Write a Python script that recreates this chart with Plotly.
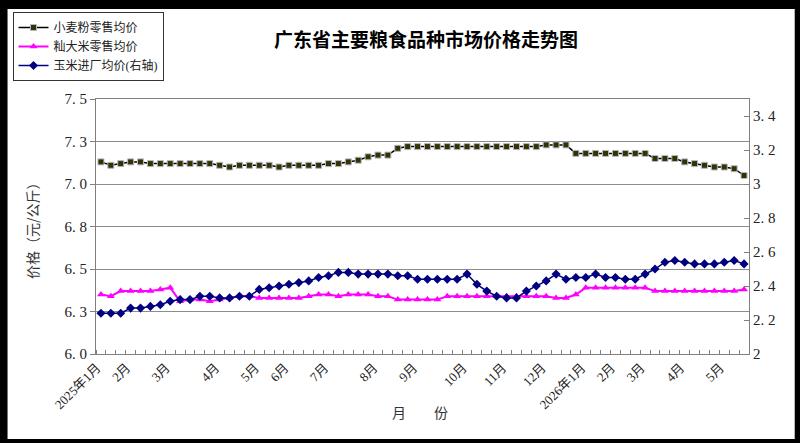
import plotly.graph_objects as go

# ---------------- data ----------------
n_weeks = 66
month_pos = [0, 3, 7, 12, 16, 19, 23, 28, 32, 37, 41, 45, 49, 52, 55, 59, 63]
month_names = ["2025年1月", "2月", "3月", "4月", "5月", "6月", "7月", "8月", "9月",
               "10月", "11月", "12月", "2026年1月", "2月", "3月", "4月", "5月"]
x_labels = [""] * n_weeks
for p, m in zip(month_pos, month_names):
    x_labels[p] = m
weeks = list(range(n_weeks))

wheat_flour = [7.13, 7.11, 7.12, 7.13, 7.13, 7.12, 7.12, 7.12, 7.12, 7.12, 7.12, 7.12,
               7.11, 7.10, 7.11, 7.11, 7.11, 7.11, 7.10, 7.11, 7.11, 7.11, 7.11, 7.12,
               7.12, 7.13, 7.14, 7.16, 7.17, 7.17, 7.21,
               7.22, 7.22, 7.22, 7.22, 7.22, 7.22, 7.22, 7.22, 7.22, 7.22, 7.22, 7.22, 7.22, 7.22,
               7.23, 7.23, 7.23,
               7.18, 7.18, 7.18, 7.18, 7.18, 7.18, 7.18, 7.18,
               7.15, 7.15, 7.15,
               7.13, 7.12, 7.11, 7.10, 7.10, 7.09, 7.05]

rice = [6.35, 6.34, 6.37, 6.37, 6.37, 6.37, 6.38, 6.39, 6.31, 6.32, 6.32, 6.31,
        6.32, 6.33, 6.34, 6.34, 6.33, 6.33, 6.33, 6.33, 6.33, 6.34, 6.35, 6.35,
        6.34, 6.35, 6.35, 6.35, 6.34, 6.34, 6.32, 6.32, 6.32, 6.32, 6.32,
        6.34, 6.34, 6.34, 6.34, 6.34, 6.34, 6.34, 6.34, 6.34, 6.34, 6.34,
        6.33, 6.33, 6.35,
        6.39, 6.39, 6.39, 6.39, 6.39, 6.39, 6.39,
        6.37, 6.37, 6.37, 6.37, 6.37, 6.37, 6.37, 6.37, 6.37, 6.38]

corn = [2.24, 2.24, 2.24, 2.27, 2.27, 2.28, 2.29, 2.31, 2.32, 2.32, 2.34, 2.34,
        2.33, 2.33, 2.34, 2.34, 2.38, 2.39, 2.40, 2.41, 2.42, 2.43, 2.45, 2.46,
        2.48, 2.48, 2.47, 2.47, 2.47, 2.47, 2.46, 2.46, 2.44, 2.44, 2.44, 2.44,
        2.44, 2.47, 2.41, 2.37, 2.34, 2.33, 2.33, 2.37, 2.40, 2.43, 2.47, 2.44,
        2.45, 2.45, 2.47, 2.45, 2.45, 2.44, 2.44, 2.47, 2.50, 2.54, 2.55, 2.54,
        2.53, 2.53, 2.53, 2.54, 2.55, 2.53]

left_vals = [6.0, 6.25, 6.5, 6.75, 7.0, 7.25, 7.5]
left_text = ["6. 0", "6. 3", "6. 5", "6. 8", "7. 0", "7. 3", "7. 5"]
right_vals = [2.0, 2.2, 2.4, 2.6, 2.8, 3.0, 3.2, 3.4]
right_text = ["2", "2. 2", "2. 4", "2. 6", "2. 8", "3", "3. 2", "3. 4"]

# ---------------- layout geometry ----------------
W, H = 800, 443
ML, MR, MT, MB = 92, 51, 96, 89
PW, PH = W - ML - MR, H - MT - MB


def px(x):
    return (x - ML) / PW


def py(y):
    return (H - MB - y) / PH


FONT = "Liberation Serif, Noto Sans CJK SC, serif"
CJK = "Noto Sans CJK SC, sans-serif"
GRAY = "#808080"

fig = go.Figure()
fig.add_trace(go.Scatter(
    x=weeks, y=wheat_flour, name="小麦粉零售均价", mode="lines+markers",
    line=dict(color="black", width=1.5),
    marker=dict(symbol="square", size=6, color="#333300", line=dict(color="#b8b8c8", width=1)),
    yaxis="y"))
fig.add_trace(go.Scatter(
    x=weeks, y=rice, name="籼大米零售均价", mode="lines+markers",
    line=dict(color="#FF00FF", width=2),
    marker=dict(symbol="triangle-up", size=7, color="#FF00FF"),
    yaxis="y"))
fig.add_trace(go.Scatter(
    x=weeks, y=corn, name="玉米进厂均价(右轴)", mode="lines+markers",
    line=dict(color="#000080", width=1.5),
    marker=dict(symbol="diamond", size=7, color="#000080"),
    yaxis="y2"))

fig.update_layout(
    width=W, height=H,
    margin=dict(l=ML, r=MR, t=MT, b=MB, pad=0),
    paper_bgcolor="black", plot_bgcolor="white",
    font=dict(family=FONT, size=13, color="#222222"),
    showlegend=True,
    legend=dict(x=px(8), y=py(8), xanchor="left", yanchor="top",
                bgcolor="white", bordercolor="#333333", borderwidth=1,
                font=dict(size=12, color="#222222"), tracegroupgap=0,
                itemwidth=30),
    title=dict(text="<b>广东省主要粮食品种市场价格走势图</b>", x=426 / W, y=1 - 40 / H,
               xref="container", yref="container", xanchor="center", yanchor="middle",
               font=dict(size=19, color="black", family=CJK)),
    xaxis=dict(range=[-0.5, n_weeks - 0.5], tickmode="array",
               tickvals=[i for i, t in enumerate(x_labels) if t],
               ticktext=[t for t in x_labels if t],
               tickangle=-45, ticks="", showgrid=False, zeroline=False,
               showline=True, linecolor=GRAY, linewidth=1, mirror=True,
               tickfont=dict(size=13), ticklabelshift=-4,
               minor=dict(tickmode="linear", tick0=-0.5, dtick=1, ticks="inside",
                          ticklen=4, tickcolor=GRAY, showgrid=False)),
    yaxis=dict(range=[6.0, 7.5], tickmode="array", tickvals=left_vals, ticktext=left_text,
               ticks="outside", ticklen=5, tickcolor=GRAY,
               showgrid=True, gridcolor="#8c8c8c", gridwidth=1,
               showline=True, linecolor=GRAY, linewidth=1, zeroline=False,
               tickfont=dict(size=15)),
    yaxis2=dict(range=[2.0, 3.5], overlaying="y", side="right", tickmode="array",
                tickvals=right_vals, ticktext=right_text,
                ticks="inside", ticklen=5, tickcolor=GRAY, showgrid=False,
                showline=True, linecolor=GRAY, linewidth=1, zeroline=False,
                tickfont=dict(size=15)),
    shapes=[dict(type="rect", xref="paper", yref="paper", layer="below",
                 x0=px(3), x1=px(W - 5), y0=py(H - 3), y1=py(5),
                 fillcolor="white", line=dict(width=0))],
    annotations=[
        dict(text="价格（元/公斤）", xref="paper", yref="paper", x=px(27), y=0.5,
             textangle=-90, showarrow=False, xanchor="center", yanchor="middle",
             font=dict(size=14, color="#333333", family=CJK)),
        dict(text="月　　份", xref="paper", yref="paper", x=px(418), y=py(413),
             showarrow=False, xanchor="center", yanchor="middle",
             font=dict(size=14, color="#333333", family=CJK)),
    ],
)

fig.write_html("out.html")
